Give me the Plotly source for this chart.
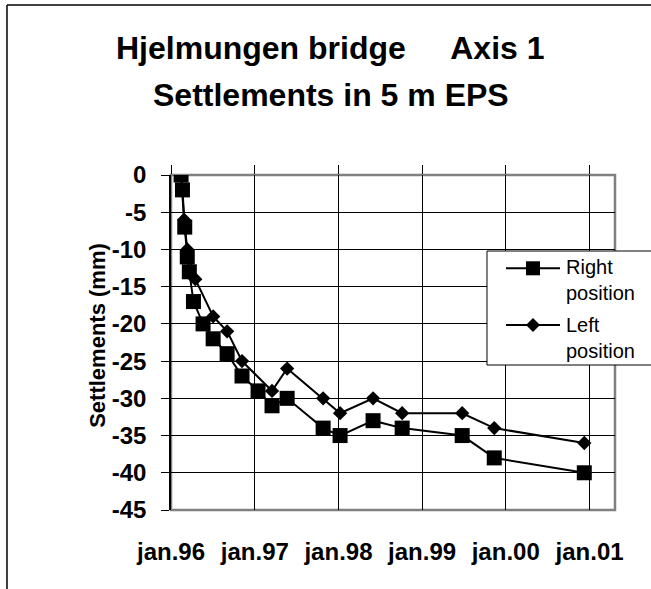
import plotly.graph_objects as go

# Settlement readings (mm)
right_dates = ["1996-02-14", "1996-02-20", "1996-03-01", "1996-03-12", "1996-03-21",
               "1996-04-08", "1996-05-20", "1996-07-03", "1996-09-02", "1996-11-06",
               "1997-01-15", "1997-03-17", "1997-05-22", "1997-10-26", "1998-01-08",
               "1998-06-01", "1998-10-06", "1999-06-25", "1999-11-12", "2000-12-09"]
right_mm = [0, -2, -7, -11, -13, -17, -20, -22, -24, -27,
            -29, -31, -30, -34, -35, -33, -34, -35, -38, -40]

left_dates = ["1996-02-14", "1996-02-27", "1996-03-12", "1996-04-16", "1996-07-03",
              "1996-09-02", "1996-11-06", "1997-03-17", "1997-05-22", "1997-10-26",
              "1998-01-08", "1998-06-01", "1998-10-06", "1999-06-25", "1999-11-12",
              "2000-12-09"]
left_mm = [0, -6, -10, -14, -19, -21, -25, -29, -26, -30,
           -32, -30, -32, -32, -34, -36]

x_tick_dates = ["1996-01-01", "1997-01-01", "1998-01-01", "1999-01-01", "2000-01-01", "2001-01-01"]
x_tick_labels = ["jan.96", "jan.97", "jan.98", "jan.99", "jan.00", "jan.01"]
y_tick_values = [0, -5, -10, -15, -20, -25, -30, -35, -40, -45]
y_tick_labels = ["0", "-5", "-10", "-15", "-20", "-25", "-30", "-35", "-40", "-45"]

FONT = "Liberation Sans, Arial, sans-serif"
X_RANGE = ["1996-01-01", "2001-04-22"]

fig = go.Figure()

fig.add_trace(go.Scatter(
    x=right_dates,
    y=right_mm,
    name="Right position",
    mode="lines+markers",
    line=dict(color="black", width=2),
    marker=dict(symbol="square", size=15, color="black"),
    xaxis="x",
))

fig.add_trace(go.Scatter(
    x=left_dates,
    y=left_mm,
    name="Left position",
    mode="lines+markers",
    line=dict(color="black", width=2),
    marker=dict(symbol="diamond", size=11, color="black"),
    xaxis="x2",
))


def paper_line(x0, y0, x1, y1, width=1, layer="above"):
    return dict(type="line", xref="paper", yref="paper", x0=x0, y0=y0, x1=x1, y1=y1,
                line=dict(color="black", width=width), layer=layer)


# hand-drawn legend box (Excel style, open to the right: it runs off the chart)
legend_shapes = [
    dict(type="rect", xref="paper", yref="paper", x0=0.7117, y0=0.4328, x1=1.3, y1=0.7731,
         line=dict(width=0), fillcolor="white", layer="above"),
    paper_line(0.7117, 0.7731, 1.3, 0.7731),
    paper_line(0.7117, 0.4328, 1.3, 0.4328),
    paper_line(0.7117, 0.4328, 0.7117, 0.7731),
    paper_line(0.7545, 0.7215, 0.8761, 0.7215, width=2),
    dict(type="rect", xref="paper", yref="paper", x0=0.7995, y0=0.7006, x1=0.8311, y1=0.7424,
         line=dict(width=0), fillcolor="black", layer="above"),
    paper_line(0.7545, 0.5522, 0.8761, 0.5522, width=2),
    dict(type="path", xref="paper", yref="paper",
         path="M 0.7995,0.5522 L 0.8153,0.5731 L 0.8311,0.5522 L 0.8153,0.5313 Z",
         line=dict(width=0), fillcolor="black", layer="above"),
]

# outer chart border: only the top and left edges fall inside the picture
frame_shapes = [
    paper_line(-0.3694, 1.5075, 1.3, 1.5075, width=1.5, layer="below"),
    paper_line(-0.3694, -0.5, -0.3694, 1.5075, width=1.5, layer="below"),
]

fig.update_layout(
    width=651,
    height=589,
    margin=dict(l=171, r=36, t=175, b=79, autoexpand=False),
    paper_bgcolor="white",
    plot_bgcolor="white",
    font=dict(family=FONT, color="black"),
    showlegend=False,
    xaxis=dict(
        type="date",
        range=X_RANGE,
        tickvals=x_tick_dates,
        ticktext=x_tick_labels,
        ticks="",
        showgrid=True,
        gridcolor="black",
        gridwidth=1,
        showline=False,
        zeroline=False,
        tickfont=dict(size=24, family=FONT, weight="bold", color="black"),
        ticklabelstandoff=25,
    ),
    xaxis2=dict(
        type="date",
        overlaying="x",
        matches="x",
        side="top",
        anchor="y",
        tickvals=x_tick_dates,
        ticks="outside",
        ticklen=9,
        tickcolor="black",
        tickwidth=1,
        showticklabels=False,
        showgrid=False,
        zeroline=False,
    ),
    yaxis=dict(
        range=[-45, 0],
        tickvals=y_tick_values,
        ticktext=y_tick_labels,
        ticks="outside",
        ticklen=8,
        tickcolor="black",
        tickwidth=1,
        showline=True,
        linecolor="black",
        linewidth=1.5,
        showgrid=True,
        gridcolor="black",
        gridwidth=1,
        zeroline=False,
        tickfont=dict(size=24, family=FONT, weight="bold", color="black"),
        ticklabelstandoff=10,
    ),
    shapes=[
        # gray plot-area frame (top, right, bottom)
        dict(type="rect", xref="paper", yref="paper", x0=0, y0=0, x1=1, y1=1,
             line=dict(color="#808080", width=2.5), layer="between"),
    ] + frame_shapes + legend_shapes,
    annotations=[
        dict(text="Hjelmungen bridge\u00a0\u00a0\u00a0\u00a0\u00a0Axis 1",
             xref="paper", yref="paper", x=0.36, y=1.379, xanchor="center", yanchor="middle",
             showarrow=False, font=dict(size=32, family=FONT, weight="bold", color="black")),
        dict(text="Settlements in 5 m EPS",
             xref="paper", yref="paper", x=0.36, y=1.239, xanchor="center", yanchor="middle",
             showarrow=False, font=dict(size=32, family=FONT, weight="bold", color="black")),
        dict(text="Settlements (mm)",
             xref="paper", yref="paper", x=-0.1644, y=0.52, xanchor="center", yanchor="middle",
             textangle=-90, showarrow=False,
             font=dict(size=22, family=FONT, weight="bold", color="black")),
        dict(text="Right<br>position", align="left",
             xref="paper", yref="paper", x=0.886, y=0.6851, xanchor="left", yanchor="middle",
             showarrow=False, font=dict(size=20, family=FONT, color="black")),
        dict(text="Left<br>position", align="left",
             xref="paper", yref="paper", x=0.886, y=0.5149, xanchor="left", yanchor="middle",
             showarrow=False, font=dict(size=20, family=FONT, color="black")),
    ],
)

# drop the page's default 8px body margin and any scrollbars
page_fix = (
    "document.body.style.margin = '0';"
    "document.body.style.overflow = 'hidden';"
    "document.documentElement.style.overflow = 'hidden';"
)
fig.write_html("out.html", config={"displayModeBar": False}, post_script=page_fix)
